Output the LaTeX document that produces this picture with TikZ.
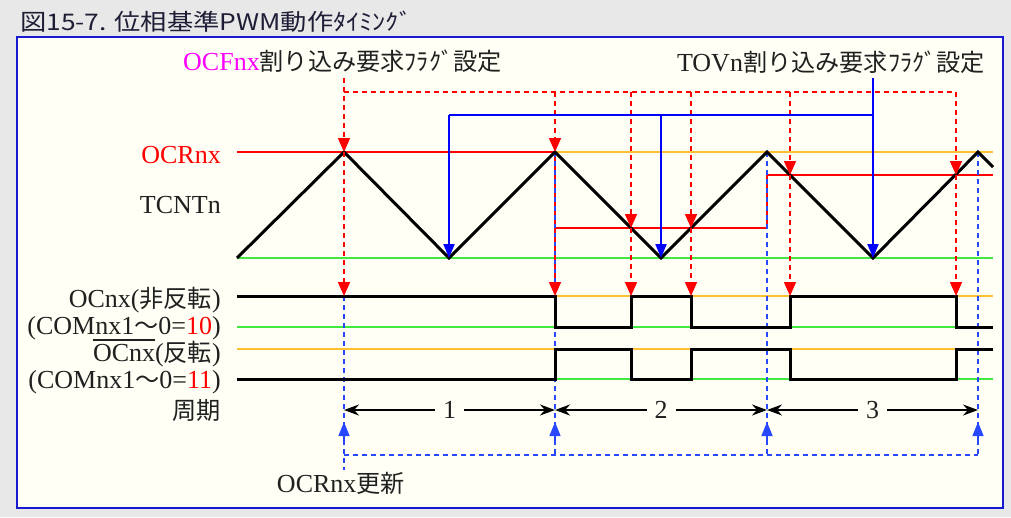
\documentclass[tikz,border=0pt]{standalone}
\usepackage{fontspec}
\usepackage{graphicx}
\setmainfont{Liberation Serif}
\newfontfamily\jp{Noto Sans CJK JP}[Scale=0.93]
\newfontfamily\jpt{Noto Sans CJK JP}
\usetikzlibrary{arrows.meta}
\definecolor{bggray}{HTML}{E8E8E8}
\definecolor{cream}{HTML}{FFFFF6}
\definecolor{frameblue}{HTML}{1818D0}
\definecolor{refor}{HTML}{FFC030}
\definecolor{refgr}{HTML}{40E840}
\definecolor{dblue}{HTML}{2848FF}
\definecolor{mag}{HTML}{FF00FF}
\definecolor{txt}{HTML}{202020}
\newcommand\myovl[1]{\setbox0\hbox{#1}\rlap{\raisebox{\dimexpr\ht0+3pt\relax}{\rule{\wd0}{1.6pt}}}\box0}
\tikzset{
  wave/.style={line width=3pt, black, line join=miter},
  refline/.style={line width=1.4pt},
  ocrline/.style={red, line width=2pt},
  rdash/.style={red, line width=1.6pt, dash pattern=on 5pt off 4pt},
  bdash/.style={dblue, line width=1.4pt, dash pattern=on 5pt off 4pt},
  rtip/.style={-{Triangle[width=12pt,length=14pt]}},
  btip/.style={-{Triangle[width=11pt,length=14pt]}},
  btov/.style={blue, line width=2pt},
  per/.style={black, line width=1.8pt, {Stealth[length=15pt,width=11pt]}-{Stealth[length=15pt,width=11pt]}},
  lbl/.style={inner sep=0pt, text=txt, font=\fontsize{26}{28}\selectfont},
}
\begin{document}
\begin{tikzpicture}[x=1pt,y=-1pt]
\useasboundingbox (0,0) rectangle (1011,517);
\fill[bggray] (0,0) rectangle (1011,517);
\draw[frameblue, line width=2pt, fill=cream] (17,37) rectangle (1003,508);
\node[anchor=base west, inner sep=0pt, text=txt!90!blue] (title) at (20,30) {\resizebox{392pt}{19.5pt}{\jpt 図15-7. 位相基準PWM動作ﾀｲﾐﾝｸﾞ}};

% reference lines
\draw[refgr, refline] (237,258) -- (993,258);
\draw[refor, refline] (555,152) -- (993,152);
\foreach \y/\c in {296/refor,327/refgr,349/refor,379/refgr}
  \draw[\c, refline] (237,\y) -- (993,\y);

% OCRnx
\draw[ocrline] (237,152) -- (555,152);
\draw[ocrline] (555,152) -- (555,228) -- (767,228) -- (767,175) -- (993,175);

% blue dashed (OCRnx update)
\draw[bdash] (344,152) -- (344,470);
\foreach \x in {555,767,978} \draw[bdash] (\x,152) -- (\x,455);
\draw[bdash] (344,455) -- (978,455);
\foreach \x in {344,555,767,978}
  \draw[dblue, line width=1.4pt, btip] (\x,440) -- (\x,422);

% TCNTn
\draw[wave] (237,258) -- (344,152) -- (449,258) -- (555,152) -- (661,258) -- (767,152) -- (873,258) -- (978,152) -- (993,167);

% OC waveforms
\draw[wave] (237,296) -- (555,296) -- (555,327) -- (631,327) -- (631,296) -- (691,296) -- (691,327) -- (790,327) -- (790,296) -- (956,296) -- (956,327) -- (993,327);
\draw[wave] (237,379) -- (555,379) -- (555,349) -- (631,349) -- (631,379) -- (691,379) -- (691,349) -- (790,349) -- (790,379) -- (956,379) -- (956,349) -- (993,349);

% red dashed (OCFnx)
\draw[rdash, rtip] (344,78) -- (344,152);
\draw[rdash] (344,92) -- (956,92);
\foreach \x/\l in {555/152,631/228,691/228,790/175,956/175}
  \draw[rdash, rtip] (\x,92) -- (\x,\l);
\foreach \x/\l in {344/152,555/228,631/228,691/228,790/175,956/175}
  \draw[rdash, rtip] (\x,\l) -- (\x,296);

% TOVn
\draw[btov] (449,115) -- (873,115);
\draw[btov, btip] (873,78) -- (873,258);
\draw[btov, btip] (449,115) -- (449,258);
\draw[btov, btip] (661,115) -- (661,258);

% periods
\foreach \a/\b/\n in {344/555/1,555/767/2,767/978/3}
  \draw[per] (\a,410) -- node[lbl, fill=cream, inner xsep=8pt, inner ysep=2pt] {\n} (\b,410);

% labels
\node[lbl, anchor=base west] (ocf) at (183,70) {\textcolor{mag}{OCFnx}{\jp 割り込み要求ﾌﾗｸﾞ設定}};
\node[lbl, anchor=base east] (tov) at (985,71) {TOVn{\jp 割り込み要求ﾌﾗｸﾞ設定}};
\node[lbl, anchor=base east, text=red] (ocr) at (221,163) {OCRnx};
\node[lbl, anchor=base east] (tcnt) at (221,213) {TCNTn};
\node[lbl, anchor=base east] (oc1) at (221,307) {OCnx({\jp 非反転})};
\node[lbl, anchor=base east] (com1) at (221,334) {(COMnx1{\jp ～}0=\textcolor{red}{10})};
\node[lbl, anchor=base east] (oc2) at (221,361) {\myovl{OCnx}({\jp 反転})};
\node[lbl, anchor=base east] (com2) at (221,388) {(COMnx1{\jp ～}0=\textcolor{red}{11})};
\node[lbl, anchor=base east] (shuki) at (221,419) {\jp 周期};
\node[lbl, anchor=base east] (upd) at (405,492) {OCRnx{\jp 更新}};
\end{tikzpicture}
\end{document}
